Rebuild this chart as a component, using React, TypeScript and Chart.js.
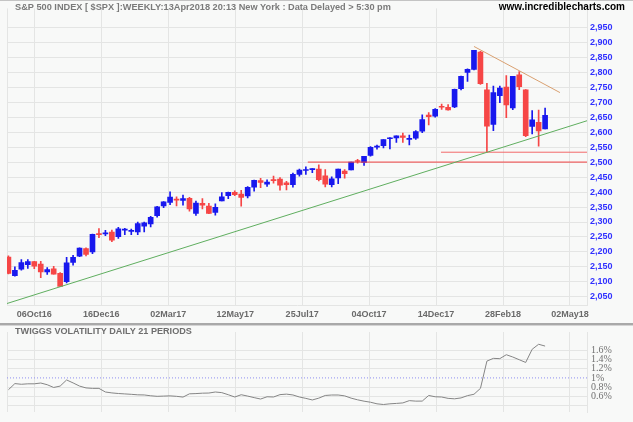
import React, { useEffect, useRef } from 'react';
import { Chart, registerables } from 'chart.js';

Chart.register(...registerables);

const TITLE = 'S&P 500 INDEX [ $SPX ]:WEEKLY:13Apr2018 20:13 New York : Data Delayed > 5:30 pm';
const SITE = 'www.incrediblecharts.com';
const VOL_TITLE = 'TWIGGS VOLATILITY DAILY 21 PERIODS';

// Weekly OHLC, week ending 09Sep2016 ... 13Apr2018
const opens = [
  2183, 2121, 2143, 2158, 2168, 2160, 2133, 2144, 2129, 2101,
  2165, 2186, 2211, 2200, 2261, 2260, 2266, 2251, 2273, 2269,
  2267, 2286, 2294, 2321, 2354, 2365, 2375, 2372, 2379, 2329,
  2362, 2353, 2332, 2370, 2388, 2399, 2393, 2387, 2416, 2438,
  2426, 2442, 2443, 2431, 2425, 2459, 2472, 2475, 2477, 2454,
  2425, 2447, 2470, 2474, 2503, 2499, 2522, 2550, 2555, 2578,
  2581, 2588, 2576, 2580, 2603, 2657, 2653, 2685, 2683, 2684,
  2745, 2799, 2809, 2867, 2741, 2626, 2722, 2750, 2681, 2791,
  2741, 2619, 2633, 2611,
];
const highs = [
  2187, 2150, 2175, 2175, 2169, 2169, 2148, 2152, 2131, 2182,
  2189, 2214, 2214, 2260, 2278, 2272, 2273, 2282, 2279, 2276,
  2300, 2300, 2319, 2352, 2368, 2401, 2384, 2390, 2382, 2370,
  2378, 2362, 2361, 2398, 2400, 2404, 2406, 2418, 2440, 2446,
  2441, 2453, 2448, 2436, 2463, 2477, 2484, 2478, 2491, 2475,
  2451, 2477, 2475, 2500, 2509, 2519, 2552, 2557, 2575, 2582,
  2588, 2597, 2590, 2605, 2658, 2665, 2679, 2694, 2692, 2744,
  2787, 2811, 2873, 2870, 2763, 2754, 2754, 2789, 2786, 2802,
  2742, 2672, 2674, 2680,
];
const lows = [
  2127, 2119, 2139, 2145, 2144, 2114, 2125, 2126, 2084, 2097,
  2156, 2184, 2187, 2194, 2248, 2254, 2234, 2245, 2258, 2258,
  2258, 2267, 2284, 2316, 2348, 2358, 2354, 2356, 2336, 2322,
  2344, 2328, 2323, 2370, 2378, 2388, 2353, 2380, 2403, 2415,
  2419, 2430, 2406, 2407, 2416, 2453, 2459, 2465, 2437, 2417,
  2417, 2428, 2446, 2474, 2496, 2489, 2520, 2543, 2547, 2544,
  2566, 2566, 2557, 2576, 2598, 2624, 2650, 2676, 2673, 2682,
  2741, 2769, 2808, 2759, 2533, 2605, 2698, 2648, 2675, 2742,
  2585, 2594, 2553, 2611,
];
const closes = [
  2128, 2139, 2165, 2168, 2153, 2133, 2141, 2126, 2085, 2164,
  2182, 2213, 2192, 2259, 2258, 2264, 2239, 2277, 2275, 2271,
  2295, 2297, 2316, 2351, 2367, 2383, 2373, 2378, 2344, 2363,
  2356, 2329, 2349, 2384, 2399, 2391, 2382, 2416, 2439, 2432,
  2433, 2438, 2423, 2425, 2459, 2473, 2472, 2477, 2441, 2426,
  2444, 2477, 2461, 2500, 2502, 2519, 2549, 2553, 2575, 2581,
  2588, 2582, 2579, 2602, 2642, 2652, 2676, 2683, 2674, 2743,
  2786, 2810, 2873, 2762, 2620, 2732, 2747, 2691, 2786, 2752,
  2588, 2641, 2604, 2656,
];

// Twiggs Volatility (21 periods), % , one reading per week
const twiggsVol = [
  0.74, 0.875, 0.86, 0.87, 0.87, 0.888, 0.85, 0.79, 0.82, 0.955,
  0.89, 0.82, 0.78, 0.77, 0.77, 0.69, 0.67, 0.657, 0.648, 0.639,
  0.628, 0.625, 0.607, 0.595, 0.6, 0.605, 0.595, 0.578, 0.65, 0.655,
  0.664, 0.667, 0.69, 0.676, 0.63, 0.58, 0.63, 0.6, 0.566, 0.535,
  0.585, 0.58, 0.632, 0.643, 0.625, 0.58, 0.55, 0.515, 0.555, 0.614,
  0.624, 0.624, 0.605, 0.555, 0.518, 0.488, 0.465, 0.43, 0.415, 0.43,
  0.439, 0.45, 0.5, 0.489, 0.49, 0.614, 0.585, 0.58, 0.55, 0.54,
  0.56, 0.61, 0.64, 0.77, 1.37, 1.43, 1.424, 1.51, 1.46, 1.4,
  1.34, 1.63, 1.74, 1.7,
];

const xTickLabels = ['06Oct16', '16Dec16', '02Mar17', '12May17', '25Jul17', '04Oct17', '14Dec17', '28Feb18', '02May18'];
const xFirstTick = 4;
const xTickStep = 10.356;
const xMin = -0.22;
const xMax = 89.48;

const priceTicks = [2050, 2100, 2150, 2200, 2250, 2300, 2350, 2400, 2450, 2500, 2550, 2600, 2650, 2700, 2750, 2800, 2850, 2900, 2950];
const priceMin = 2023;
const priceMax = 3013;

const volTicks = [0.4, 0.6, 0.8, 1, 1.2, 1.4, 1.6];
const volMin = 0.25;
const volMax = 2.01;

// trend lines: [x(week index), price]
const greenTrend = [[-0.22, 2028], [89.48, 2638]];
const tanTrend = [[72, 2886], [85.3, 2732]];
const support2500 = [[46.3, 2500], [89.48, 2500]];
const support2533 = [[66.9, 2533], [89.48, 2533]];

const FONT = '"Liberation Sans", Arial, sans-serif';
const SERIF = '"Liberation Serif", "Times New Roman", serif';
const UP = '#1818ee';
const DOWN = '#f64646';
const GRID = '#e4e5e4';
const BG = '#f8f9f8';

const xTickValues = [xMin, ...xTickLabels.map((_, k) => xFirstTick + k * xTickStep)];

function xScale(showLabels: boolean, height: number) {
  return {
    type: 'linear',
    min: xMin,
    max: xMax,
    offset: false,
    afterBuildTicks: (s: any) => { s.ticks = xTickValues.map((v) => ({ value: v })); },
    afterFit: (s: any) => { s.height = height; },
    grid: { color: GRID, drawTicks: false, offset: false },
    border: { display: showLabels, color: GRID },
    ticks: {
      display: showLabels,
      padding: 4,
      maxRotation: 0,
      autoSkip: false,
      color: '#6a6a6a',
      font: { family: FONT, size: 9, weight: 'bold' },
      callback: (_v: any, i: number) => (i === 0 ? '' : xTickLabels[i - 1]),
    },
  };
}

const toLine = (pts: number[][]) => pts.map(([x, y]) => ({ x, y }));

export default function App() {
  const topRef = useRef<HTMLCanvasElement>(null);
  const botRef = useRef<HTMLCanvasElement>(null);

  useEffect(() => {
    document.body.style.margin = '0';
    document.body.style.background = BG;
    const idx = opens.map((_, i) => i);
    const colors = idx.map((i) => (closes[i] >= opens[i] ? UP : DOWN));

    const headerPlugin = {
      id: 'header',
      afterDraw(chart: any) {
        const ctx = chart.ctx;
        ctx.save();
        ctx.fillStyle = '#c4c4c4';
        ctx.fillRect(0, 0, 633, 1);
        ctx.textBaseline = 'middle';
        ctx.fillStyle = '#7a7a7a';
        ctx.font = `bold 9.2px ${FONT}`;
        ctx.textAlign = 'left';
        ctx.fillText(TITLE, 15, 7.5);
        ctx.fillStyle = '#000';
        ctx.font = `bold 10px ${FONT}`;
        ctx.textAlign = 'right';
        ctx.fillText(SITE, 625, 7.5);
        ctx.restore();
      },
    };

    const top = new Chart(topRef.current as HTMLCanvasElement, {
      type: 'bar',
      data: {
        datasets: [
          { type: 'line', data: toLine(greenTrend), borderColor: '#5fae5f', borderWidth: 1, pointRadius: 0, order: 0 },
          { type: 'line', data: toLine(tanTrend), borderColor: '#d9a070', borderWidth: 1, pointRadius: 0, order: 0 },
          { type: 'line', data: toLine(support2500), borderColor: '#f04040', borderWidth: 1, pointRadius: 0, order: 0 },
          { type: 'line', data: toLine(support2533), borderColor: '#f26a6a', borderWidth: 1, pointRadius: 0, order: 0 },
          {
            type: 'bar',
            data: idx.map((i) => ({ x: i, y: [opens[i], closes[i]] })),
            backgroundColor: colors,
            barThickness: 5,
            minBarLength: 1,
            grouped: false,
            order: 1,
          },
          {
            type: 'bar',
            data: idx.map((i) => ({ x: i, y: [lows[i], highs[i]] })),
            backgroundColor: colors,
            barThickness: 1,
            grouped: false,
            order: 2,
          },
        ] as any,
      },
      options: {
        animation: false,
        responsive: false,
        devicePixelRatio: 1,
        layout: { padding: { left: 7, top: 4, right: 0, bottom: 0 } },
        plugins: { legend: { display: false }, tooltip: { enabled: false } },
        scales: {
          x: xScale(true, 17) as any,
          y: {
            type: 'linear',
            position: 'right',
            min: priceMin,
            max: priceMax,
            beginAtZero: false,
            afterBuildTicks: (s: any) => { s.ticks = priceTicks.map((v) => ({ value: v })); },
            afterFit: (s: any) => { s.width = 46; },
            grid: { color: GRID, drawTicks: false },
            border: { color: GRID },
            ticks: {
              padding: 3,
              autoSkip: false,
              color: '#3030ff',
              font: { family: FONT, size: 9, weight: 'bold' },
              callback: (v: any) => Number(v).toLocaleString('en-US'),
            },
          },
        },
      },
      plugins: [headerPlugin],
    });

    const volPlugin = {
      id: 'volHeader',
      afterDraw(chart: any) {
        const ctx = chart.ctx;
        ctx.save();
        ctx.fillStyle = '#a9a9a9';
        ctx.fillRect(0, 1, 633, 2);
        ctx.fillStyle = '#d4d4d4';
        ctx.fillRect(0, 3, 633, 1);
        ctx.fillStyle = '#6e6e6e';
        ctx.font = `bold 9.1px ${FONT}`;
        ctx.textBaseline = 'middle';
        ctx.fillText(VOL_TITLE, 15, 9.5);
        ctx.restore();
      },
    };

    const bot = new Chart(botRef.current as HTMLCanvasElement, {
      type: 'line',
      data: {
        datasets: [
          {
            data: [{ x: xMin, y: 1 }, { x: xMax, y: 1 }],
            borderColor: '#8f8ff0',
            borderWidth: 1,
            borderDash: [1, 2],
            pointRadius: 0,
          },
          {
            data: twiggsVol.map((v, i) => ({ x: i, y: v })),
            borderColor: '#858585',
            borderWidth: 1,
            pointRadius: 0,
            tension: 0,
          },
        ],
      },
      options: {
        animation: false,
        responsive: false,
        devicePixelRatio: 1,
        layout: { padding: { left: 7, top: 4, right: 0, bottom: 0 } },
        plugins: { legend: { display: false }, tooltip: { enabled: false } },
        scales: {
          x: xScale(false, 2) as any,
          y: {
            type: 'linear',
            position: 'right',
            min: volMin,
            max: volMax,
            afterBuildTicks: (s: any) => { s.ticks = volTicks.map((v) => ({ value: v })); },
            afterFit: (s: any) => { s.width = 46; },
            grid: {
              drawTicks: false,
              color: (c: any) => (c.tick && c.tick.value === 1 ? 'rgba(0,0,0,0)' : GRID),
            },
            border: { color: GRID },
            ticks: {
              padding: 4,
              autoSkip: false,
              color: '#707070',
              font: { family: SERIF, size: 10 },
              callback: (v: any) => (v === 0.4 ? '' : v === 1 ? '1%' : Number(v).toFixed(1) + '%'),
            },
          },
        },
      },
      plugins: [volPlugin],
    });

    return () => {
      top.destroy();
      bot.destroy();
    };
  }, []);

  return (
    <div style={{ position: 'relative', width: 633, height: 422, background: BG, overflow: 'hidden' }}>
      <canvas ref={topRef} width={633} height={322} style={{ position: 'absolute', left: 0, top: 0, width: 633, height: 322 }} />
      <canvas ref={botRef} width={633} height={100} style={{ position: 'absolute', left: 0, top: 322, width: 633, height: 100 }} />
    </div>
  );
}
